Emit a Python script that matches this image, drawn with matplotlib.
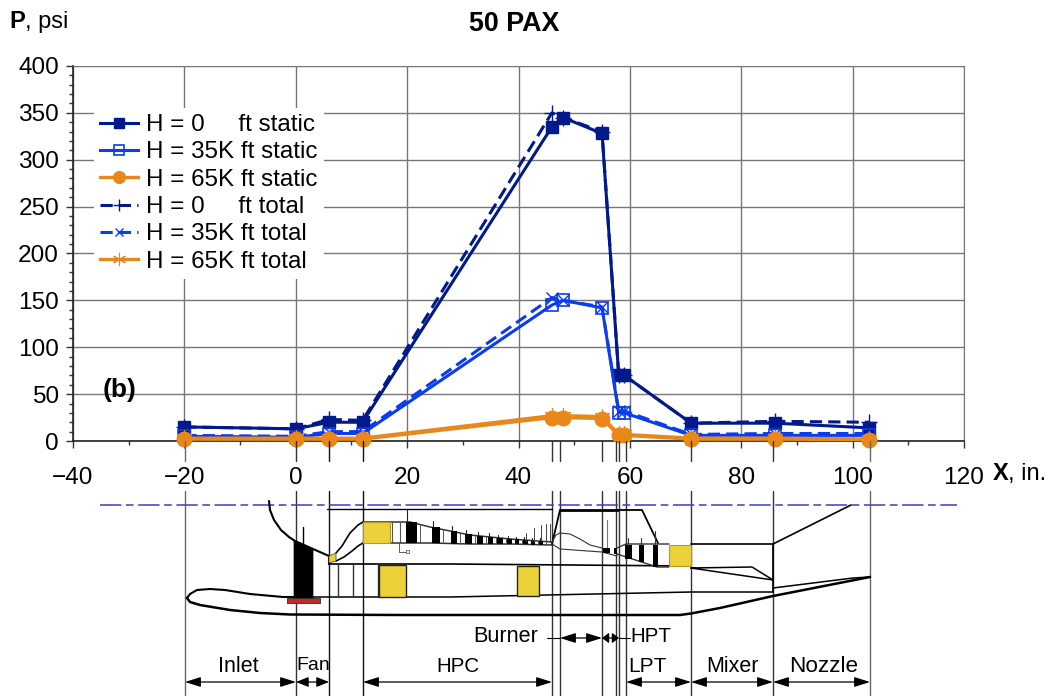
import numpy as np
import matplotlib
matplotlib.use("Agg")
import matplotlib.pyplot as plt
from matplotlib.patches import Polygon, Rectangle

plt.rcParams['font.family'] = ['Liberation Sans', 'DejaVu Sans']

# stations along the engine, in.
x_st = [-20, 0, 6, 12, 46, 48, 55, 58, 59, 71, 86, 103]

h0_static = [15, 13, 20, 20, 335, 345, 328, 70, 70, 19, 19, 14]
h35_static = [5, 4, 8, 8, 145, 150, 142, 30, 30, 6, 6, 6]
h65_static = [2, 2, 2, 2, 25, 25, 24, 6, 6, 2, 2, 1.5]
h0_total = [15, 13, 23, 22, 350, 345, 330, 70, 70, 19, 21, 20]
h35_total = [6, 5, 10, 10, 153, 150, 143, 32, 32, 7, 8, 8]
h65_total = [3, 3, 3, 3, 27, 27, 26, 7, 7, 3, 3, 2]

navy = "#001a8c"
blue = "#0a3cf0"
orange = "#e8871a"

W, H = 1052, 696
fig = plt.figure(figsize=(W / 100, H / 100), dpi=100)
ax = fig.add_axes([73 / W, 1 - 441 / H, (964 - 73) / W, (441 - 66) / H])

ax.plot(x_st, h0_total, color=navy, lw=2.2, ls=(0, (4, 2)), marker="+", ms=11, mew=1, label="H = 0     ft total", zorder=4, clip_on=False)
ax.plot(x_st, h35_total, color=blue, lw=2.2, ls=(0, (4, 2)), marker="x", ms=8, mew=1, label="H = 35K ft total", zorder=4, clip_on=False)
ax.plot(x_st, h0_static, color=navy, lw=2.2, marker="s", ms=9, label="H = 0     ft static", zorder=4, clip_on=False)
ax.plot(x_st, h35_static, color=blue, lw=2.2, marker="s", ms=9, mfc="none", mew=1.2, label="H = 35K ft static", zorder=4, clip_on=False)
ax.plot(x_st, h65_static, color=orange, lw=2.4, marker="o", ms=10.5, label="H = 65K ft static", zorder=6, clip_on=False)
ax.plot(x_st, h65_total, color=orange, lw=2.4, marker=(6, 2, 0), ms=12, mew=0.8, label="H = 65K ft total", zorder=6, clip_on=False)

ax.set_xlim(-40, 120)
ax.set_ylim(0, 400)
ax.set_xticks(np.arange(-40, 121, 20))
ax.set_xticks(np.arange(-40, 121, 10), minor=True)
ax.set_yticks(np.arange(0, 401, 50))
ax.set_yticks(np.arange(0, 401, 10), minor=True)
ax.tick_params(axis="both", which="major", labelsize=17.6, length=5, width=1, color="#333333", pad=5)
ax.tick_params(axis="both", which="minor", length=3, width=1, color="#333333")
ax.tick_params(axis="x", which="major", pad=14)
ax.grid(True, which="major", color="#777777", lw=1)
ax.set_axisbelow(True)
for s in ["top", "right"]:
    ax.spines[s].set_color("#777777")
for s in ["left", "bottom"]:
    ax.spines[s].set_color("#222222")
    ax.spines[s].set_linewidth(1.2)

handles, labels = ax.get_legend_handles_labels()
order = [2, 3, 4, 0, 1, 5]
leg = ax.legend([handles[i] for i in order], [labels[i] for i in order],
                loc="upper left", bbox_to_anchor=(21 / 891, 1 - 42 / 375), fontsize=17.4, frameon=True,
                framealpha=1, edgecolor="none", facecolor="white", fancybox=False,
                handlelength=1.55, handletextpad=0.36, labelspacing=0.22, borderaxespad=0, borderpad=0.25,
                markerscale=0.8)
leg.set_zorder(3)

# schematic below the chart, drawn in pixel coordinates of the figure
sk = fig.add_axes([0, 0, 1, 1])
sk.set_xlim(0, W)
sk.set_ylim(H, 0)
sk.axis("off")
sk.patch.set_alpha(0)

yellow = "#ecd23a"


def line(xs, ys, lw=1.3, c="black", **kw):
    sk.plot(xs, ys, color=c, lw=lw, solid_capstyle="round", **kw)


def block(x0, y0, x1, y1, fc, ec="none", lw=0.8):
    sk.add_patch(Rectangle((x0, y0), x1 - x0, y1 - y0, fc=fc, ec=ec, lw=lw, zorder=2))


sk.plot([100, 957], [505, 505], color="#3c3cc8", lw=1.1, ls=(0, (14, 3, 5, 3)))

# station lines running down from the axis
st_px = [185, 296, 329, 363, 552, 560, 602, 616, 619, 626, 691, 773, 870]
st_col = ["#666666", "#333333", "#111111", "#111111", "#333333", "#333333", "#333333", "#333333", "#333333",
          "#333333", "#333333", "#333333", "#666666"]
for px, c in zip(st_px, st_col):
    line([px, px], [441, 461], lw=1, c=c, zorder=1)
    line([px, px], [491, 696], lw=1, c=c, zorder=1)

# nacelle and outer duct
line([187, 190, 197, 210, 225, 250, 283, 313], [598, 594, 590, 589, 590, 594, 597, 597], lw=1.5)
line([187, 190, 200, 230, 260, 290, 400, 680, 691, 720, 773, 870],
     [598, 602, 605, 610, 613, 614.5, 615, 615, 613.5, 608, 596, 577], lw=1.8)
line([313, 450, 691], [597, 597, 592], lw=1.1)
line([329, 450, 691], [564, 564, 566], lw=1.2)
line([691, 773], [592, 592], lw=1.1)
line([773, 853, 870], [588, 578, 577], lw=1.1)
line([329, 329], [556, 564], lw=1.5)

# inlet and fan
line([269, 270, 274, 281, 289, 295, 329], [501, 510, 520, 530, 537, 541, 556], lw=1.5)
sk.add_patch(Polygon([(294, 541), (313, 549), (313, 598), (294, 598)], fc="black", ec="black", lw=0.5, zorder=3))
line([303, 303], [527, 545], lw=1)
block(287, 598, 320, 603, "#c8282a", ec="#444444", lw=0.8)
sk.add_patch(Polygon([(329, 556), (336, 553), (336, 561), (329, 563)], fc=yellow, ec="#555555", lw=0.6, zorder=3))

# core duct
core_x = [363, 410, 430, 470, 510, 552]
core_top = [522, 522, 527, 535, 539, 542]
core_bot = [543, 543, 543, 544, 544, 545]
line([336, 342, 350, 358, 363], [553, 546, 533, 525, 522], lw=1.2)
line([336, 344, 352, 358, 363], [561, 557, 551, 546, 543], lw=1.2)
line(core_x, core_top, lw=1.1, c="#333333")
line(core_x, core_bot, lw=1.1, c="#333333")
block(363, 522, 390, 543, yellow, ec="#b09a20")
for px in [392, 400]:
    line([px, px], [522, 543], lw=0.8, c="#555555")

stage_x0 = [406, 432, 451, 465, 477, 488, 497, 507, 515, 523, 531, 539]
stage_x1 = [417, 440, 457, 472, 483, 493, 503, 512, 519, 528, 535, 543]
stage_tip = [27, 14, 12, 10, 9, 8, 7, 7, 6, 6, 6, 6]
for x0, x1, tip in zip(stage_x0, stage_x1, stage_tip):
    t = np.interp(x0, core_x, core_top)
    b = np.interp(x0, core_x, core_bot)
    block(x0, t, x1, b, "black")
    line([x0 + 1, x0 + 1], [t - tip * 0.45, t], lw=0.8, c="#222222")
    line([x1 + 3, x1 + 3], [np.interp(x1 + 3, core_x, core_top), b], lw=0.7, c="#555555")
line([399, 399, 404, 407], [543, 552, 552, 552], lw=0.6, c="#444444")
block(406, 550, 409, 553, "white", ec="#444444", lw=0.5)
for px, tip in zip([526, 534, 541, 546, 550], [8, 13, 16, 17, 17]):
    line([px, px], [541 - tip, 541], lw=0.7, c="#444444")

# bypass section
for px in [338, 353, 378]:
    line([px, px], [564, 597], lw=1, c="#333333")
block(379, 565, 406, 597, yellow, ec="#222222", lw=1)
block(517, 566, 539, 596, yellow, ec="#222222", lw=1)

# burner and casing
line([327, 552], [509, 509], lw=1)
line([552, 560], [544, 510], lw=1.3)
line([618, 642, 658], [510, 510, 543], lw=1.3)
line([560, 618], [510, 510], lw=2)
line([552, 556, 560, 570, 580, 590, 602], [542, 535, 533, 534, 539, 545, 548], lw=0.8, c="#333333")
line([552, 560, 602, 617], [544, 549, 552, 556], lw=0.8, c="#333333")
line([607, 607], [520, 548], lw=0.8, c="#777777")

# turbines
block(603, 548, 610, 553, "black")
block(614, 548, 617, 554, "black")
line([617, 626, 669], [548, 544, 544], lw=1, c="#333333")
line([617, 657, 669], [554, 567, 567], lw=1, c="#333333")
block(625, 545, 632, 559, "black")
block(639, 545, 644, 562, "black")
block(653, 545, 658, 567, "black")
for px, tip in zip([628, 641, 655], [7, 7, 14]):
    line([px, px], [545 - tip, 545], lw=0.8, c="#333333")
block(669, 545, 691, 566, yellow, ec="#b09a20")

# mixer and nozzle
line([691, 773, 773], [544, 544, 592], lw=1.2)
line([773, 851], [544, 505], lw=1.2)
line([691, 752, 773, 691], [568, 567, 580, 568], lw=1.1)

# dimension arrows
arrow_y = [682, 682, 682, 682, 682, 682, 638, 638]
arrow_x0 = [185, 296, 363, 626, 691, 773, 560, 602]
arrow_x1 = [296, 329, 552, 691, 773, 870, 602, 619]
arrow_head = [0.95, 0.75, 0.95, 0.95, 0.95, 0.95, 0.95, 0.4]
for y, x0, x1, hl in zip(arrow_y, arrow_x0, arrow_x1, arrow_head):
    sk.annotate("", xy=(x0, y), xytext=(x1, y),
                arrowprops=dict(arrowstyle=f"<|-|>,head_length={hl},head_width=0.3", color="black", lw=0.9,
                                shrinkA=0, shrinkB=0))
line([547, 560], [638, 638], lw=0.8)
line([619, 630], [638, 638], lw=0.8)

part_names = ["Inlet", "Fan", "HPC", "LPT", "Mixer", "Nozzle", "Burner", "HPT"]
part_x = [238, 313, 458, 647, 733, 824, 506, 651]
part_y = [666, 666, 666, 666, 666, 666, 637, 637]
part_size = [15.5, 14, 14.8, 15, 15.5, 16.2, 15.6, 14.8]
for name, px, py, fs in zip(part_names, part_x, part_y, part_size):
    sk.text(px, py, name, fontsize=fs, ha="center", va="center")

sk.text(9, 22, "P", fontsize=17, fontweight="bold", ha="left", va="center")
sk.text(25, 22, ", psi", fontsize=17, ha="left", va="center")
sk.text(514, 24, "50 PAX", fontsize=19.4, fontweight="bold", ha="center", va="center")
sk.text(120, 390, "(b)", fontsize=19, fontweight="bold", ha="center", va="center")
sk.text(993, 474, "X", fontsize=17, fontweight="bold", ha="left", va="center")
sk.text(1008, 474, ", in.", fontsize=17, ha="left", va="center")

fig.savefig("out.png", dpi=100)
